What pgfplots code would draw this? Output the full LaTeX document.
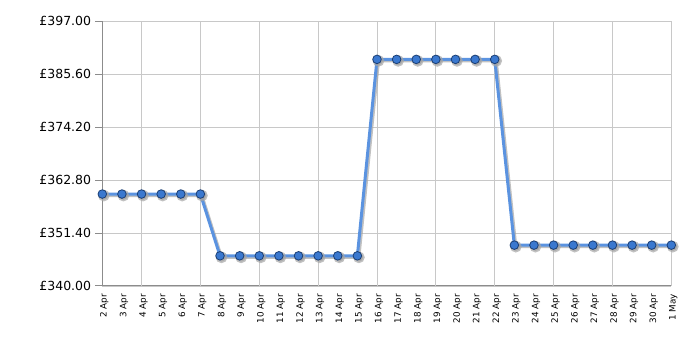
\documentclass[border=0pt]{standalone}
\usepackage{pgfplots}
\pgfplotsset{compat=1.18}
\usepackage{fontspec}
\setmainfont{DejaVu Sans}
\definecolor{lineblue}{HTML}{5B93E0}
\definecolor{markfill}{HTML}{3A78CF}
\definecolor{markdraw}{HTML}{1B3F75}
\definecolor{gridc}{HTML}{C8C8C8}
\definecolor{axc}{HTML}{8C8C8C}
\begin{document}
\begin{tikzpicture}[x=1pt,y=1pt]
\path (0,0) rectangle (700,350);
\begin{axis}[
  at={(102.3pt,64pt)}, anchor=south west,
  scale only axis, width=569pt, height=264.7pt,
  xmin=0, xmax=29, ymin=340, ymax=397,
  axis x line=bottom, axis y line=left,
  axis line style={-, axc, line width=1pt},
  xtick={0,...,29},
  xticklabels={2 Apr,3 Apr,4 Apr,5 Apr,6 Apr,7 Apr,8 Apr,9 Apr,10 Apr,11 Apr,12 Apr,13 Apr,14 Apr,15 Apr,16 Apr,17 Apr,18 Apr,19 Apr,20 Apr,21 Apr,22 Apr,23 Apr,24 Apr,25 Apr,26 Apr,27 Apr,28 Apr,29 Apr,30 Apr,1 May},
  x tick label style={rotate=90, anchor=east, font=\fontsize{8.8}{10}\selectfont, inner sep=1pt, yshift=-2pt},
  xtick style={draw=none},
  extra x ticks={2,5,8,11,14,17,20,23,26,29},
  extra x tick labels={},
  extra x tick style={grid=major, tick style={draw=axc, line width=1pt}, major tick length=5pt, tick align=outside},
  ytick={340,351.4,362.8,374.2,385.6,397},
  yticklabel={\textsterling\pgfmathprintnumber[fixed,fixed zerofill,precision=2]{\tick}},
  /pgf/number format/assume math mode=true,
  y tick label style={font=\fontsize{12.5}{14}\selectfont, inner sep=1pt, xshift=-3pt},
  ytick style={draw=axc, line width=1pt},
  major tick length=7pt, tick align=outside,
  ymajorgrids,
  grid style={gridc, line width=0.8pt},
  clip=false,
]
\addplot[gray!70, opacity=0.7, line width=3pt, xshift=1.5pt, yshift=-1.5pt,
  mark=*, mark size=4.3pt, mark options={draw=none, fill=gray!80}]
  table {
x y
0 359.8
1 359.8
2 359.8
3 359.8
4 359.8
5 359.8
6 346.5
7 346.5
8 346.5
9 346.5
10 346.5
11 346.5
12 346.5
13 346.5
14 388.8
15 388.8
16 388.8
17 388.8
18 388.8
19 388.8
20 388.8
21 348.8
22 348.8
23 348.8
24 348.8
25 348.8
26 348.8
27 348.8
28 348.8
29 348.8
};
\addplot[lineblue, line width=3pt,
  mark=*, mark size=4.3pt, mark options={draw=markdraw, fill=markfill, line width=0.8pt}]
  table {
x y
0 359.8
1 359.8
2 359.8
3 359.8
4 359.8
5 359.8
6 346.5
7 346.5
8 346.5
9 346.5
10 346.5
11 346.5
12 346.5
13 346.5
14 388.8
15 388.8
16 388.8
17 388.8
18 388.8
19 388.8
20 388.8
21 348.8
22 348.8
23 348.8
24 348.8
25 348.8
26 348.8
27 348.8
28 348.8
29 348.8
};
\end{axis}
\end{tikzpicture}
\end{document}
